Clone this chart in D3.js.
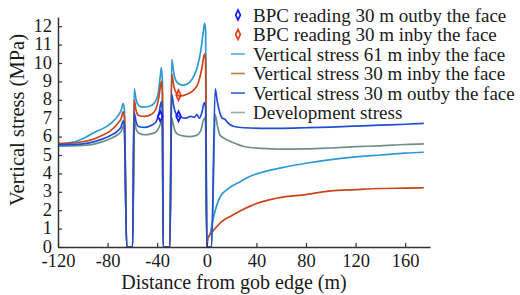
<!DOCTYPE html>
<meta charset="utf-8">
<style>
  body { margin: 0; background: #fff; }
  svg text { font-family: "Liberation Serif" !important; fill: #1a1a1a; }
</style>
<body>
<script src="https://d3js.org/d3.v7.min.js"></script>
<script>

var width = 520,
    height = 295;

// axis ticks
var xTicks = [-120, -80, -40, 0, 40, 80, 120, 160];
var yTicks = [0, 1, 2, 3, 4, 5, 6, 7, 8, 9, 10, 11, 12];

// [distance (m), vertical stress (MPa)]
var inby61 = [
  [-120,5.62],[-112,5.66],[-105,5.75],[-98,5.95],[-90,6.25],[-82,6.5],[-76,6.8],[-72,7.1],[-69,7.45],[-67.5,7.8],[-66.5,7.5],[-64.6,0],
  [-59.8,0],[-58.6,8.6],[-57,8.0],[-55,7.7],[-52,7.6],[-46,7.65],[-42,7.85],[-39,8.4],[-37.5,9.3],[-36.6,9.75],[-35.8,9.0],[-35.2,0],
  [-29.8,0],[-28.3,10.2],[-26.5,9.4],[-24,8.95],[-20,8.8],[-16,8.85],[-12,9.1],[-8,9.7],[-5,10.6],[-3,11.6],[-1.8,12.15],[-1,11.8],[0,0],
  [0.8,0.45],[2.4,0.65],[5,1.5],[9,2.45],[12,2.85],[15,3.05],[20,3.3],[27,3.55],[35,3.85],[44,4.05],[60,4.3],[80,4.55],[100,4.75],[120,4.9],[140,5.0],[160,5.1],[175,5.15]
];
var inby30 = [
  [-120,5.62],[-110,5.64],[-100,5.72],[-92,5.85],[-85,6.05],[-78,6.3],[-72,6.7],[-69,7.0],[-67.5,7.35],[-66.5,7.1],[-64.6,0],
  [-59.8,0],[-58.6,8.0],[-57,7.4],[-55,7.15],[-50,7.1],[-45,7.2],[-41,7.5],[-38.5,8.2],[-36.6,9.0],[-35.8,8.4],[-35.2,0],
  [-29.8,0],[-28.3,9.4],[-26.5,8.7],[-24,8.3],[-21.8,8.2],[-16,8.3],[-11,8.5],[-7,8.9],[-4,9.7],[-1.8,10.5],[-1,10.2],[0,0],
  [0.8,0.5],[2.4,0.65],[6,0.95],[12,1.38],[20,1.7],[28,2.0],[36,2.25],[44,2.45],[60,2.7],[80,2.85],[100,3.05],[120,3.12],[140,3.18],[160,3.2],[175,3.22]
];
var outby30 = [
  [-120,5.55],[-110,5.56],[-100,5.6],[-92,5.7],[-85,5.85],[-78,6.05],[-72,6.3],[-69,6.55],[-67.5,6.85],[-66.5,6.6],[-64.6,0],
  [-59.8,0],[-58.6,7.3],[-57,6.8],[-55,6.55],[-50,6.5],[-45,6.6],[-41,6.8],[-38.5,7.3],[-36.6,7.9],[-35.8,7.4],[-35.2,0],
  [-29.8,0],[-28.3,8.3],[-26.5,7.6],[-24,7.15],[-21,7.05],[-17,7.0],[-13,7.1],[-10,7.05],[-8,7.2],[-6,7.0],[-4,7.3],[-2,7.85],[-1,7.6],[0,0],
  [3.8,0],[6.8,8.6],[8.5,7.9],[10.5,7.3],[12.5,7.0],[14.5,6.95],[17,6.75],[22,6.55],[30,6.48],[44,6.45],[60,6.45],[80,6.48],[100,6.52],[120,6.57],[140,6.62],[160,6.67],[175,6.72]
];
var development = [
  [-120,5.48],[-110,5.49],[-100,5.52],[-92,5.58],[-85,5.7],[-78,5.88],[-72,6.1],[-69,6.3],[-67.5,6.55],[-66.5,6.3],[-64.6,0],
  [-59.8,0],[-58.6,6.9],[-57,6.4],[-55,6.2],[-50,6.1],[-45,6.15],[-41,6.25],[-38.5,6.5],[-36.6,6.8],[-35.8,6.4],[-35.2,0],
  [-29.8,0],[-28.3,7.0],[-26.5,6.5],[-24,6.15],[-20,6.05],[-14,6.0],[-9,6.05],[-5,6.3],[-2,7.0],[-1,6.8],[0,0],
  [3.8,0],[6.8,7.2],[8.5,6.6],[10.5,6.1],[13,5.95],[17,5.8],[24,5.6],[31,5.45],[44,5.36],[60,5.32],[80,5.33],[100,5.38],[120,5.45],[140,5.5],[160,5.57],[175,5.6]
];

// BPC readings
var bpcOutby = [[-37.5,7.1],[-22.8,7.1]];
var bpcInby = [[-22.8,8.25]];

var legendLabels = [
  "BPC reading 30 m outby the face",
  "BPC reading 30 m inby the face",
  "Vertical stress 61 m inby the face",
  "Vertical stress 30 m inby the face",
  "Vertical stress 30 m outby the face",
  "Development stress"
];

var svg = d3.select("body").append("svg")
    .attr("width", width)
    .attr("height", height)
    .attr("font-family", "Liberation Serif");

var x = d3.scaleLinear().domain([-120, 180]).range([58, 430]);
var y = d3.scaleLinear().domain([0, 12.5]).range([247, 17]);

// lines
var line = d3.line()
    .x(function(d) { return x(d[0]); })
    .y(function(d) { return y(d[1]); })
    .curve(d3.curveMonotoneX);

var series = [
  { data: development, color: "#6f8f8d" },
  { data: inby61, color: "#2d9ad6" },
  { data: inby30, color: "#c9461b" },
  { data: outby30, color: "#1f4ed4" }
];

svg.append("g")
  .selectAll("path")
  .data(series)
  .enter().append("path")
    .attr("d", function(d) { return line(d.data); })
    .attr("fill", "none")
    .attr("stroke", function(d) { return d.color; })
    .attr("stroke-width", 1.7)
    .attr("stroke-linejoin", "round");

// axes
var xAxis = svg.append("g")
    .attr("transform", "translate(0," + y(0) + ")")
    .call(d3.axisBottom(x).tickValues(xTicks).tickFormat(function(d) { return String(d); })
      .tickSize(-4).tickPadding(8).tickSizeOuter(0));
var yAxis = svg.append("g")
    .attr("transform", "translate(" + x(-120) + ",0)")
    .call(d3.axisLeft(y).tickValues(yTicks).tickFormat(function(d) { return String(d); })
      .tickSize(-4).tickPadding(6).tickSizeOuter(0));

[xAxis, yAxis].forEach(function(a) {
  a.attr("font-family", null).attr("font-size", null);
  a.select(".domain").attr("stroke", "#333").attr("stroke-width", 1.5);
  a.selectAll(".tick line").attr("stroke", "#333").attr("stroke-width", 1.2);
  a.selectAll(".tick text")
    .style("font-size", "18.5px")
    .attr("fill", "#1a1a1a");
});
xAxis.selectAll(".tick text").attr("dy", "0.66em");
yAxis.selectAll(".tick text").attr("dy", "0.28em");

// markers
var diamond = d3.symbol().type(d3.symbolDiamond).size(26);

svg.append("g").selectAll("path")
  .data(bpcOutby).enter().append("path")
    .attr("d", diamond)
    .attr("transform", function(d) { return "translate(" + x(d[0]) + "," + y(d[1]) + ") scale(0.85,1.05)"; })
    .attr("fill", "none")
    .attr("stroke", "#1a1aff")
    .attr("stroke-width", 2);

svg.append("g").selectAll("path")
  .data(bpcInby).enter().append("path")
    .attr("d", diamond)
    .attr("transform", function(d) { return "translate(" + x(d[0]) + "," + y(d[1]) + ") scale(0.85,1.05)"; })
    .attr("fill", "none")
    .attr("stroke", "#e5401a")
    .attr("stroke-width", 2);

// axis titles
svg.append("text")
    .attr("x", 234)
    .attr("y", 289)
    .attr("text-anchor", "middle")
    .style("font-size", "20px")
    .text("Distance from gob edge (m)");

svg.append("text")
    .attr("transform", "translate(24,120) rotate(-90)")
    .attr("text-anchor", "middle")
    .style("font-size", "20.5px")
    .text("Vertical stress (MPa)");

// legend
var legendColors = ["#1a1aff", "#e5401a", "#4aaee0", "#b8843c", "#3060dc", "#9aaeac"];
var legend = svg.append("g").selectAll("g")
  .data(legendLabels)
  .enter().append("g")
    .attr("transform", function(d, i) { return "translate(0," + (15 + i * 19.5) + ")"; });

legend.each(function(d, i) {
  var g = d3.select(this);
  if (i < 2) {
    g.append("path")
      .attr("d", diamond)
      .attr("transform", "translate(238,0) scale(0.85,1.05)")
      .attr("fill", "none")
      .attr("stroke", legendColors[i])
      .attr("stroke-width", 2);
  } else {
    g.append("line")
      .attr("x1", 231).attr("x2", 245)
      .attr("stroke", legendColors[i])
      .attr("stroke-width", 1.6);
  }
  g.append("text")
    .attr("x", 253)
    .attr("dy", "0.35em")
    .style("font-size", "19px")
    .text(d);
});

</script>
</body>
